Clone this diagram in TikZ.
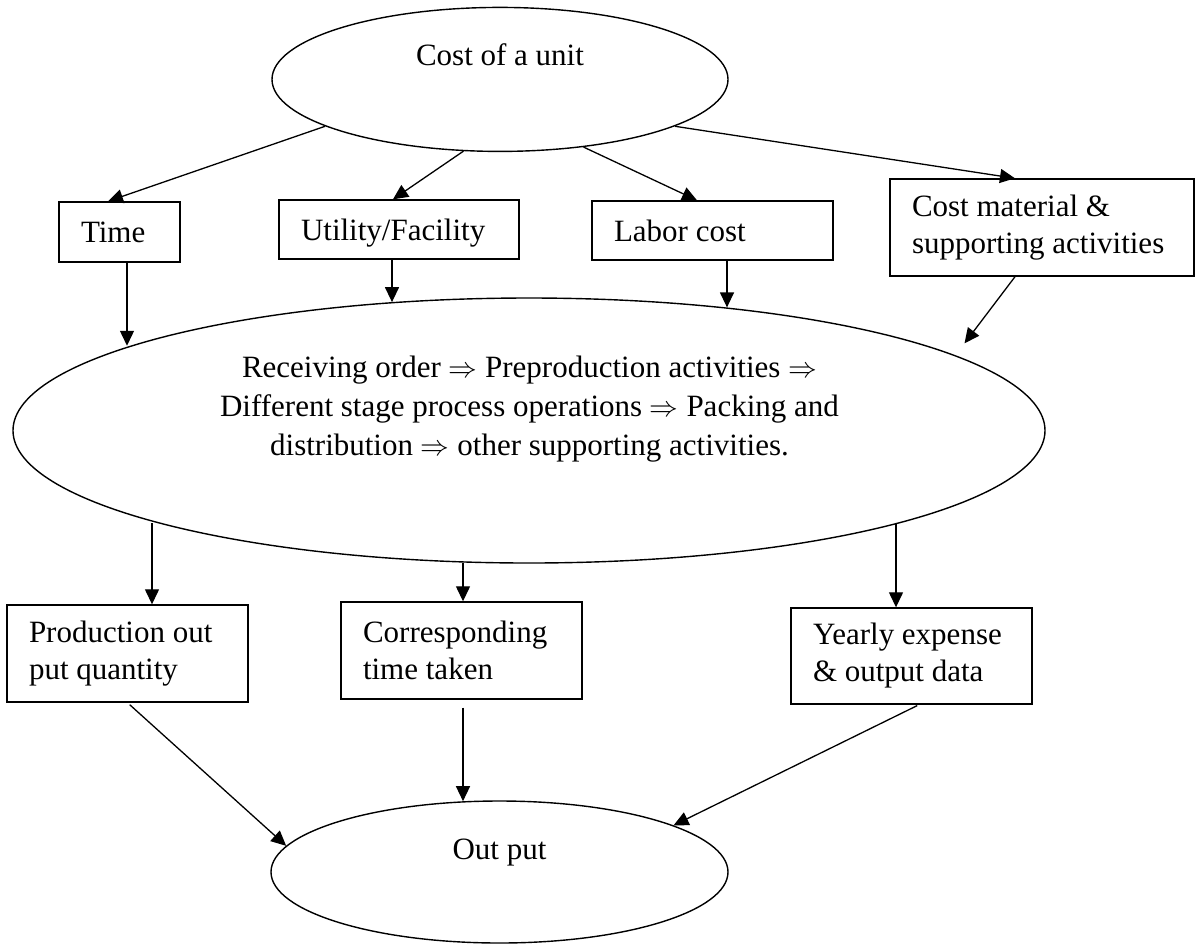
\documentclass[tikz,border=0pt]{standalone}
\usepackage{fontspec}
\setmainfont{Liberation Serif}
\usetikzlibrary{shapes.geometric,arrows.meta}

\begin{document}
\begin{tikzpicture}[x=0.5pt,y=-0.5pt,
  every node/.style={font=\fontsize{15.5pt}{18.5pt}\selectfont},
  box/.style={draw, line width=0.7pt, rectangle, inner xsep=11pt, inner ysep=0pt, align=flush left},
  oval/.style={draw, line width=0.7pt, ellipse, inner sep=0pt},
  ovaltext/.style={inner sep=0pt, anchor=base},
  arr/.style={line width=0.65pt, -{Triangle[length=7.5pt,width=7pt]}}
]
\useasboundingbox (0,0) rectangle (1195,944);

% ellipses
\node[oval, minimum width=228pt, minimum height=72pt] (top) at (500,79.4) {};
\node[ovaltext] (toptext) at (500,65) {Cost of a unit};

\node[oval, minimum width=516pt, minimum height=132.5pt] (big) at (529,430.5) {};
\node[inner sep=0pt, align=center, anchor=north,
      font=\fontsize{15.5pt}{19.5pt}\selectfont] (bigtext) at (529.5,355.5)
  {Receiving order $\Rightarrow$ Preproduction activities $\Rightarrow$\\
   Different stage process operations $\Rightarrow$ Packing and\\
   distribution $\Rightarrow$ other supporting activities.};

\node[oval, minimum width=228.5pt, minimum height=71pt] (out) at (499.5,872) {};
\node[ovaltext] (outtext) at (499.5,859) {Out put};

% cost components
\node[box, text width=38.5pt, minimum height=30pt] (time) at (119.5,232) {Time};
\node[box, text width=98pt, minimum height=29.5pt, text depth=0pt] (util) at (399,229.5) {Utility/Facility};
\node[box, text width=98.5pt, minimum height=29.5pt] (labor) at (712.5,230.5) {Labor cost};
\node[box, text width=130pt, minimum height=48.5pt] (cost) at (1042,227.5)
  {Cost material \&\\supporting activities};

% results
\node[box, text width=98.5pt, minimum height=48.5pt] (prod) at (127.5,653.5)
  {Production out\\put quantity};
\node[box, text width=98.5pt, minimum height=48.5pt] (corr) at (461.5,650.5)
  {Corresponding\\time taken};
\node[box, text width=98.5pt, minimum height=48pt] (year) at (911.5,656)
  {Yearly expense\\\& output data};

% connector end points on the box edges
\coordinate (timeS) at ([xshift=3.75pt]time.south);
\coordinate (utilS) at ([xshift=-3.5pt]util.south);
\coordinate (laborS) at ([xshift=7.25pt]labor.south);
\coordinate (prodN) at ([xshift=12.25pt]prod.north);
\coordinate (corrN) at ([xshift=0.75pt]corr.north);
\coordinate (corrS) at ([xshift=0.75pt]corr.south);
\coordinate (yearN) at ([xshift=-7.75pt]year.north);

% unit cost splits into its components
\draw[arr] (top.195) -- ([xshift=-5.75pt]time.north);
\draw[arr] (top.243) -- ([xshift=-3pt]util.north);
\draw[arr] (top.321) -- ([xshift=-7.75pt]labor.north);
\draw[arr] (top.345) -- ([xshift=-13.5pt]cost.north);

% components feed the process chain
\draw[arr] (timeS) -- (timeS |- big.168);
\draw[arr] (utilS) -- (utilS |- big.137);
\draw[arr] (laborS) -- (laborS |- big.32);
\draw[arr, shorten >=7.5pt] ([xshift=-13.5pt]cost.south) -- (big.10);

% process chain gives the results
\draw[arr] (prodN |- big.194) -- (prodN);
\draw[arr] (corrN |- big.243) -- (corrN);
\draw[arr] (yearN |- big.346) -- (yearN);

% results combine into the output
\draw[arr, shorten <=1.5pt] (prod.south) -- (out.173);
\draw[arr, shorten <=4pt] (corrS) -- (corrS |- out.117);
\draw[arr, shorten <=1pt] ([xshift=3.75pt]year.south) -- (out.15);
\end{tikzpicture}
\end{document}
